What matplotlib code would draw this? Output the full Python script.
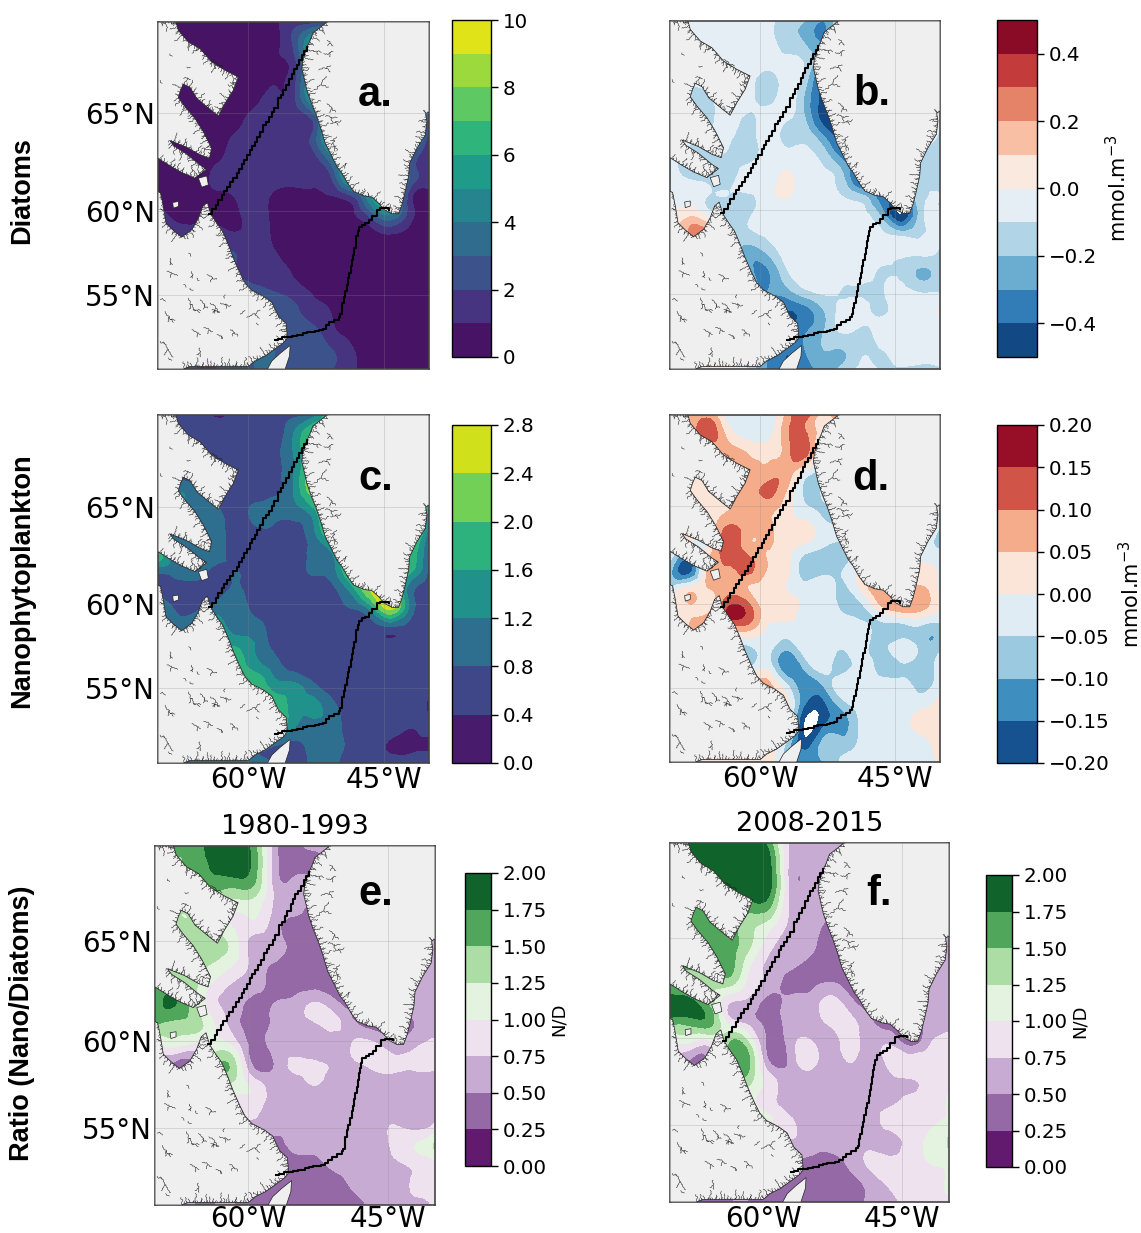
import numpy as np
import matplotlib
matplotlib.use("Agg")
import matplotlib.pyplot as plt
from matplotlib.collections import LineCollection
from matplotlib.path import Path
from matplotlib.patches import Polygon
from matplotlib.tri import Triangulation, UniformTriRefiner

W, H = 1141, 1233

# fields, 15 columns x 19 rows, north at the top
diatoms_mean = [
 [.5,.5,.5,.5,.5,.5,.8,1.6,1.6,3,3,3,3,3,3],
 [.5,.5,.5,.5,.5,.5,.8,2.2,5,5,5,5,5,5,5],
 [.5,.5,.5,.5,.5,.5,.9,1.6,5,5,5,5,5,5,5],
 [.5,.5,.5,.5,.5,.5,.9,1.6,5,5,5,5,5,5,5],
 [.5,.5,.5,.5,.5,.7,1.3,1.7,5,5,5,5,5,5,5],
 [.5,.5,.5,.5,.7,1.3,1.5,1.7,2.2,6,6,6,6,6,3],
 [.5,.5,.5,.6,1.1,1.3,1.4,1.5,2.3,6,6,6,6,6,1.2],
 [.5,.5,.5,.8,1.3,1.3,1.3,1.3,1.6,4,6,6,6,3,1.3],
 [.5,.5,.5,1.2,1.3,1.3,1.3,1.3,1.2,2.2,6,6,6,3,1.2],
 [.5,.5,.5,.8,1.05,1.3,.9,.7,.8,1.0,2.0,5,6,1.5,.8],
 [1.5,.7,.6,.6,.8,1.3,.8,.5,.5,.5,.8,2.5,4,1.5,.7],
 [2,1.5,1.5,1.5,1.1,1.3,.85,.5,.5,.5,.5,.5,1.0,.5,.5],
 [2,2,2,2,2,1.3,1.05,.6,.5,.5,.5,.5,.5,.5,.5],
 [2,2,2,2,2,1.3,1.3,.9,.5,.5,.5,.5,.5,.5,.5],
 [2,2,2,2,2.5,2.5,2,1.5,.9,.6,.5,.5,.5,.5,.5],
 [2,2,2,2,2.5,3,3,2.3,1.4,.95,.5,.5,.5,.5,.5],
 [2,2,2,2,2.5,3,3,2.3,2.2,1.2,.6,.5,.5,.5,.5],
 [2,2,2,2,2.5,3,3,2.5,2.3,2.0,1.1,.5,.5,.5,.5],
 [2,2,2,2,2.5,3,3,2.3,2.2,2.0,1.2,.5,.5,.5,.5],
]
diatoms_diff = [
 [-.05,-.05,-.05,-.05,-.05,-.05,-.15,-.2,-.3,-.05,-.05,-.05,-.05,-.05,-.05],
 [-.05,-.05,-.05,-.05,-.05,-.05,-.15,-.22,-.3,-.05,-.05,-.05,-.05,-.05,-.05],
 [-.05,-.05,-.05,-.05,-.05,-.05,-.08,-.12,-.3,-.3,-.05,-.05,-.05,-.05,-.05],
 [-.05,-.05,-.05,-.05,-.05,-.15,-.05,-.15,-.45,-.3,-.05,-.05,-.05,-.05,-.05],
 [-.05,-.2,-.12,-.05,-.05,-.15,-.05,-.22,-.45,-.3,-.05,-.05,-.05,-.05,-.05],
 [-.05,-.05,-.12,-.05,-.12,-.05,-.08,-.2,-.45,-.3,-.05,-.05,-.05,-.05,-.05],
 [-.05,-.05,-.12,-.08,-.15,-.05,-.13,-.13,-.3,-.45,-.3,-.05,-.05,-.05,-.12],
 [-.05,-.15,-.12,-.12,-.15,-.05,-.05,-.07,-.15,-.35,-.3,-.05,-.05,-.15,-.12],
 [-.05,-.12,-.12,-.15,-.05,-.05,.01,-.05,-.08,-.2,-.45,-.3,-.15,-.15,-.12],
 [-.04,-.04,-.1,-.1,-.11,-.05,.01,-.05,-.05,-.11,-.2,-.35,-.3,-.12,-.1],
 [.02,.07,-.05,-.13,-.12,-.05,-.05,-.05,-.05,-.05,-.08,-.25,-.5,-.15,-.1],
 [.02,.2,.2,-.05,-.13,-.08,-.05,-.05,-.05,-.05,-.05,-.08,-.15,-.12,-.05],
 [-.05,-.05,-.05,-.1,-.25,-.2,-.06,-.05,-.05,-.05,-.05,-.05,-.07,-.08,-.13],
 [-.05,-.05,-.05,-.1,-.25,-.32,-.13,-.05,-.05,-.05,-.05,-.11,-.12,-.22,-.14],
 [-.05,-.05,-.05,-.1,-.25,-.3,-.25,-.13,-.08,-.11,-.12,-.11,-.07,-.11,-.11],
 [-.05,-.05,-.05,-.1,-.25,-.3,-.4,-.35,-.2,-.06,-.06,-.12,-.05,-.05,.02],
 [-.05,-.05,-.05,-.1,-.25,-.3,-.4,-.32,-.2,-.08,-.12,-.05,-.05,-.05,-.05],
 [-.05,-.05,-.05,-.1,-.25,-.3,-.4,-.3,-.2,-.2,-.12,-.1,-.05,-.05,-.05],
 [-.05,-.05,.07,.07,-.1,-.3,-.4,-.35,-.25,-.17,-.08,-.11,-.11,-.13,-.11],
]
nano_mean = [
 [.6,.6,.6,.35,.5,.6,.6,.7,1.0,2,2,2,2,2,2],
 [.6,.6,.6,.6,.6,.6,.6,1.2,2.0,2.0,2.0,2.0,2.0,2.0,2.0],
 [.6,.6,.6,.6,.6,.6,.7,1.2,2.0,2.0,2.0,2.0,2.0,2.0,2.0],
 [.6,.6,.6,.6,.6,.6,.7,1.2,2.2,2.2,2.2,2.2,2.2,2.2,2.2],
 [.6,1.2,.9,.6,.6,.6,.75,1.2,2.2,2.2,2.2,2.2,2.2,2.2,2.2],
 [.6,1.0,1.0,.9,.6,.9,.9,1.0,1.4,2.5,2.5,2.5,2.5,2.5,1.5],
 [.6,1.0,1.0,1.0,.6,.7,.7,.6,1.1,2.2,2.5,2.5,2.5,2.5,1.0],
 [2,1.0,1.0,1.0,.6,.6,.6,.6,.85,1.3,2.5,2.5,2.5,2,.8],
 [1.0,1.0,1.0,.7,.8,.6,.6,.6,.85,1.0,2.2,2.5,2.5,1.8,.7],
 [.6,.6,.6,.6,.85,.6,.6,.6,.6,.7,1.4,2.5,2.5,1.0,.7],
 [1.5,.7,.7,1.0,1.0,.7,.6,.6,.6,.6,.8,1.4,2.5,1.1,.7],
 [1.5,1.1,1.3,1.5,1.0,.95,.6,.6,.6,.6,.6,.6,.7,.6,.6],
 [1.5,1.5,1.5,1.6,1.6,1.2,.7,.6,.6,.6,.6,.6,.6,.6,.6],
 [1.5,1.5,1.5,1.6,1.8,1.4,1.0,.6,.6,.6,.6,.6,.6,.6,.6],
 [1.5,1.5,1.5,1.6,1.8,2,1.4,1.3,.9,.6,.6,.6,.6,.6,.6],
 [1.5,1.5,1.5,1.6,1.8,2,2,1.4,1.3,.9,.6,.6,.6,.6,.3],
 [1.5,1.5,1.5,1.6,1.8,2,2,1.3,1.1,1.0,.6,.6,.6,.45,.5],
 [1.0,1.0,1.0,1.0,1.0,1.0,.9,.7,.95,1.0,.7,.6,.35,.3,.35],
 [1.0,1.0,1.0,1.0,1.0,1.0,.8,.6,.9,.9,.6,.6,.6,.6,.6],
]
nano_diff = [
 [0,.06,.08,-.02,-.02,-.02,.06,.13,.03,.12,0,0,0,0,0],
 [0,.05,.13,.03,-.02,-.02,.08,.11,.01,0,0,0,0,0,0],
 [0,.02,.03,.06,.05,.03,.07,.12,-.04,0,0,0,0,0,0],
 [0,.02,.03,.03,.06,.07,.08,-.02,-.05,0,0,0,0,0,0],
 [0,.02,.03,.05,.08,.11,.05,-.06,-.04,0,0,0,0,0,0],
 [0,.02,.02,.05,.07,.06,.02,-.03,-.06,-.05,0,0,0,0,0],
 [0,.02,.0,.12,.07,.06,.02,.02,-.03,-.04,0,0,0,0,-.06],
 [0,-.05,.02,.13,.08,.05,.02,-.03,-.06,-.06,-.03,0,0,-.03,-.05],
 [-.08,-.18,.06,.09,.12,.05,.02,-.08,-.07,-.05,.01,.02,0,.02,-.02],
 [-.06,.02,.05,.07,.05,.02,.0,-.03,-.02,-.06,.02,.08,.06,.06,-.02],
 [.02,.04,.03,.15,.13,.02,.03,-.02,-.03,-.06,-.06,.04,.08,.07,.0],
 [.02,.05,.1,.1,.08,.0,-.02,-.02,-.03,-.03,-.03,-.07,-.07,-.06,-.07],
 [.02,.02,.02,-.04,-.06,-.03,-.08,-.02,-.03,-.04,-.03,-.07,-.02,-.07,-.07],
 [.02,.02,.02,-.04,-.07,-.02,-.14,-.08,-.03,-.07,-.03,-.07,-.06,-.08,-.02],
 [.02,.02,.02,.02,.05,.07,-.04,-.13,-.09,-.02,-.03,-.03,-.03,-.07,-.02],
 [.02,.02,.02,.02,.02,.05,.03,-.15,-.16,-.07,-.02,-.02,-.02,-.02,.02],
 [.02,.02,.02,.02,.02,.03,.03,-.21,-.16,-.12,-.03,-.02,-.02,.02,.03],
 [.02,.02,.02,.02,.02,.02,-.05,-.18,-.08,-.08,-.03,-.02,-.02,-.02,.03],
 [.02,.02,.04,.04,.04,.02,-.05,-.12,-.1,-.04,-.02,-.02,-.02,-.02,.0],
]
ratio_early = [
 [1.6,1.6,1.6,1.9,1.9,1.55,.6,.4,.6,.6,.6,.6,.6,.6,.6],
 [1.6,1.5,1.6,1.8,1.9,1.6,.6,.4,.4,.6,.6,.6,.6,.6,.6],
 [1.5,1.5,1.5,1.6,1.55,1.45,.65,.6,.6,.6,.6,.6,.6,.6,.6],
 [1.3,1.3,1.3,1.3,1.1,1.1,.7,.6,.4,.4,.4,.4,.6,.6,.6],
 [1.3,1.3,1.3,1.3,.95,.9,.6,.4,.4,.4,.4,.4,.6,.6,.6],
 [1.3,1.3,1.3,1.35,1.1,.6,.6,.4,.4,.4,.4,.4,.6,.6,.6],
 [1.3,1.3,1.3,1.2,.95,.65,.45,.4,.4,.4,.4,.4,.6,.6,.6],
 [1.6,1.6,1.3,.9,.7,.6,.4,.42,.42,.4,.4,.4,.6,.6,.6],
 [1.6,1.75,1.3,.8,.6,.4,.52,.6,.8,.6,.4,.4,.4,.6,.6],
 [1.5,1.4,1.35,1.0,.6,.4,.55,.6,.7,.8,.55,.4,.4,.5,.6],
 [.7,1.05,.9,1.1,.9,.4,.6,.6,.6,.6,.8,.8,.6,.7,.85],
 [.6,.4,.5,1.4,1.3,.42,.52,.8,.8,.72,.7,.8,.8,.8,.8],
 [.5,.5,.5,1.1,1.15,.9,.6,.6,.75,.6,.6,.65,.6,.6,.7],
 [.5,.5,.5,.9,.9,.85,.6,.6,.6,.6,.6,.6,.6,.6,.72],
 [.5,.5,.5,.7,.7,.7,.6,.6,.6,.6,.6,.6,.75,.65,.8],
 [.5,.5,.5,.5,.5,.5,.4,.6,.6,.6,.6,.6,.8,1.0,1.3],
 [.5,.5,.5,.5,.5,.4,.4,.35,.4,.55,.6,.6,.7,.8,.9],
 [.5,.5,.5,.5,.5,.4,.4,.4,.4,.4,.55,.6,.6,.8,.85],
 [.5,.5,.5,.5,.5,.4,.4,.4,.4,.4,.4,.6,.6,.6,.8],
]
ratio_late = [
 [1.9,1.9,1.9,1.9,1.9,1.6,.7,.65,.6,.6,.6,.6,.6,.6,.6],
 [1.9,1.9,1.9,1.9,1.9,1.8,.7,.65,.6,.6,.6,.6,.6,.6,.6],
 [1.9,1.9,1.9,1.9,1.9,1.85,.7,.6,.6,.6,.6,.6,.6,.6,.6],
 [1.7,1.7,1.7,1.7,1.7,1.6,.7,.6,.6,.4,.4,.6,.6,.6,.6],
 [1.6,1.6,1.6,1.6,1.35,1.15,.7,.6,.45,.4,.4,.6,.6,.6,.6],
 [1.6,1.6,1.65,1.6,1.3,.85,.65,.55,.4,.4,.4,.6,.6,.6,.6],
 [1.6,1.6,1.6,1.6,1.05,.7,.6,.45,.4,.4,.4,.4,.6,.6,.6],
 [1.5,1.4,1.35,1.35,.9,.65,.4,.4,.5,.4,.4,.4,.4,.6,.6],
 [1.9,1.85,1.4,.75,.65,.4,.6,.6,.85,.6,.4,.4,.4,.6,.6],
 [1.6,1.6,1.6,.9,.65,.4,.6,.6,.8,.85,.55,.4,.4,.6,.7],
 [.9,1.0,.9,1.5,1.2,.4,.6,.8,.6,.85,.65,.7,.4,.7,.8],
 [.6,.45,.55,1.45,1.5,.5,.55,.85,.6,.75,.6,.8,.9,.85,.85],
 [.5,.5,.5,1.4,1.3,.9,.55,.6,.6,.6,.6,.65,.7,.85,.9],
 [.5,.5,.5,1.2,1.1,.85,.6,.6,.6,.6,.6,.65,.85,.9,1.05],
 [.5,.5,.5,1.0,1.0,1.0,.8,.6,.6,.6,.6,.85,.85,.95,1.05],
 [.5,.5,.5,.5,.5,.5,.7,.6,.6,.6,.65,.6,.85,1.05,1.3],
 [.5,.5,.5,.5,.5,.45,.45,.45,.4,.55,.8,.85,.9,1.0,1.05],
 [.5,.5,.5,.5,.5,.45,.4,.4,.4,.4,.6,.8,.9,.9,1.05],
 [.5,.5,.5,.5,.5,.45,.4,.4,.4,.4,.55,.7,.8,.9,.95],
]

# coastlines and ship track, in map units of panel a (x 24-836, y 35-1078)
greenland = [(530,35),(505,55),(488,68),(478,95),(468,115),(458,150),(455,175),(462,205),(470,240),(482,275),(498,315),(510,350),(525,400),(545,440),(560,470),(575,490),(592,520),(610,545),(640,558),(665,562),(685,580),(702,600),(725,612),(745,612),(755,585),(765,545),(775,500),(778,460),(800,415),(825,375),(830,335),(826,312),(836,305),(836,35)]
labrador = [(24,1079),(24,545),(32,550),(40,590),(48,640),(70,662),(95,682),(125,660),(145,625),(158,590),(172,578),(182,612),(200,640),(218,665),(235,705),(250,745),(270,790),(285,820),(305,842),(340,860),(365,878),(385,920),(408,942),(412,985),(400,1000),(380,1015),(345,1040),(315,1055),(295,1072),(120,1072),(100,1079)]
baffin = [(24,35),(78,35),(85,60),(115,95),(150,115),(185,155),(225,180),(265,200),(250,240),(225,280),(205,318),(170,290),(140,265),(120,232),(100,222),(92,240),(85,262),(105,290),(135,325),(160,365),(185,415),(178,445),(150,435),(110,412),(60,392),(72,408),(110,432),(150,465),(170,478),(135,505),(95,488),(60,468),(24,445)]
newfoundland = [(352,1079),(365,1055),(390,1032),(420,1008),(418,1040),(405,1079)]
resolution_isl = [(145,505),(170,498),(175,525),(155,532)]
akpatok_isl = [(68,578),(85,575),(85,590),(70,595)]
land_masses = [greenland, labrador, baffin, newfoundland, resolution_isl, akpatok_isl]

# scribbled inland water: start x, start y, direction (rad), length
inland_water = [
 (60,745,1.2,26),(50,785,.5,40),(115,730,1.3,16),(125,785,1.4,26),(140,805,.8,14),(170,795,.6,40),
 (115,865,.9,55),(150,870,.7,42),(180,880,.8,48),(130,900,.2,28),(45,905,.9,50),(30,870,.3,22),
 (125,960,.6,35),(160,955,.6,36),(240,960,.7,38),(290,925,-.4,55),(320,940,1.2,10),(40,1000,1.1,60),
 (150,1015,1.5,34),(30,995,.2,22),(210,880,.3,40),(100,825,.8,14),(225,855,1.5,14),(270,915,-.4,22),
 (200,975,.6,26),(60,930,.2,18),(185,900,.4,30),(120,835,.7,16),(55,1045,.3,16),
 (110,170,.3,14),(30,210,.7,14),(185,150,.7,46),(100,205,.3,26),(60,130,.9,14),
 (490,240,-.9,70),(530,280,.6,45),(540,340,-.2,40),(560,380,1.9,38),(520,130,-.3,36),(530,90,.9,30),
 (525,320,.2,45),(505,180,-.5,48),(550,400,1.0,30),(490,120,.3,30),(585,460,1.9,18),
]
turn_table = [.5,-.7,.3,.9,-.4,-.9,.6,-.2,.8,-.6,.2,-.8,.4,-.3]
fjord_lengths = [4,9,2,14,6,20,3,8,28,5,2,11,16,3,7,35,4]

track_north = [(178,612),(186,598),(197,585),(205,570),(215,555),(222,543),(232,530),(240,517),(250,503),(260,490),(267,476),(275,463),(283,450),(290,436),(300,420),(306,408),(314,395),(322,380),(330,366),(340,345),(348,335),(356,322),(365,307),(373,293),(385,265),(393,255),(400,240),(408,225),(418,205),(425,190),(430,175),(440,165),(447,150),(455,135),(462,122),(470,110)]
track_south = [(375,992),(385,990),(397,984),(410,982),(425,980),(440,977),(458,970),(470,969),(482,967),(495,966),(505,963),(517,958),(527,948),(537,938),(552,932),(565,922),(570,915),(575,895),(576,880),(582,862),(585,845),(590,825),(594,805),(597,790),(602,770),(605,752),(609,735),(612,715),(616,695),(618,680),(622,665),(625,652),(636,645),(645,640),(655,630),(665,618),(680,600),(690,596),(705,595),(715,600)]

# colour levels and ticks per panel
levels_diatoms = np.arange(0, 10.5, 1)
levels_diatoms_diff = np.arange(-0.5, 0.55, 0.1)
levels_nano = np.arange(0, 3.0, 0.4)
levels_nano_diff = np.arange(-0.2, 0.25, 0.05)
levels_ratio = np.arange(0, 2.25, 0.25)

ticks_diatoms = [0, 2, 4, 6, 8, 10]
ticks_diatoms_diff = [-0.4, -0.2, 0.0, 0.2, 0.4]

lon_ticks = [295, 700]
lon_labels = ["60°W", "45°W"]
lat_ticks = [310, 603, 855]
lat_labels = ["65°N", "60°N", "55°N"]

grid_x = np.linspace(24, 836, 15)
grid_y = np.linspace(35, 1079, 19)
mesh_x, mesh_y = np.meshgrid(grid_x, grid_y)
grid_tri = Triangulation(mesh_x.ravel(), mesh_y.ravel())
refiner = UniformTriRefiner(grid_tri)


def px_axes(x0, y0, x1, y1):
    return [x0 / W, 1 - y1 / H, (x1 - x0) / W, (y1 - y0) / H]


def wiggle(x, y, angle, length, idx):
    xs, ys = [x], [y]
    left = length
    while left > 0:
        step = min(left, 3 + (idx % 3) * 2)
        a = angle + turn_table[idx % len(turn_table)]
        x, y = x + step * np.cos(a), y + step * np.sin(a)
        xs.append(x)
        ys.append(y)
        left -= step
        idx += 1
    return np.column_stack([xs, ys])


def build_scribbles():
    lines = []
    count = 0
    for poly in land_masses[:3]:
        path = Path(poly + [poly[0]])
        for (xa, ya), (xb, yb) in zip(poly, poly[1:]):
            seg = np.hypot(xb - xa, yb - ya)
            n = int(seg / 4)
            if n == 0 or min(xa, xb) >= 836 or max(xa, xb) <= 24:
                continue
            nx, ny = -(yb - ya) / seg, (xb - xa) / seg
            if not path.contains_point(((xa + xb) / 2 + 2 * nx, (ya + yb) / 2 + 2 * ny)):
                nx, ny = -nx, -ny
            ang = np.arctan2(ny, nx)
            for k in range(n):
                t = k / n
                px, py = xa + t * (xb - xa), ya + t * (yb - ya)
                length = fjord_lengths[count % len(fjord_lengths)]
                count += 1
                line = wiggle(px, py, ang, length, count)
                if path.contains_point(line[-1]):
                    lines.append(line)
    for x, y, ang, length in inland_water:
        line = wiggle(x, y, ang, length, int(x + y))
        lines.append(line)
        if length > 25:
            mid = line[len(line) // 2]
            lines.append(wiggle(mid[0], mid[1], ang + 1.2, length * 0.4, int(x)))
    return lines


scribbles = build_scribbles()


def draw_map(box, field, levels, cmap, letter, letter_xy, xlabels=False, ylabels=False, xpad=2):
    ax = fig.add_axes(px_axes(*box))
    tri_fine, z_fine = refiner.refine_field(np.array(field, dtype=float).ravel(), subdiv=3)
    z_fine = np.minimum(z_fine, levels[-1] - 1e-6)
    cf = ax.tricontourf(tri_fine, z_fine, levels=levels, cmap=cmap, zorder=1)
    for poly in land_masses:
        ax.add_patch(Polygon(poly, closed=True, fc="#efefef", ec="#222222", lw=0.5, zorder=3))
    ax.add_collection(LineCollection(scribbles, colors="#1c1c1c", linewidths=0.38, zorder=4))
    ax.plot(*zip(*track_north), color="black", lw=1.5, drawstyle="steps-post", zorder=6)
    ax.plot(*zip(*track_south), color="black", lw=1.5, drawstyle="steps-post", zorder=6)
    for x in lon_ticks:
        ax.axvline(x, color="#888888", lw=0.6, alpha=0.3, zorder=5)
    for y in lat_ticks:
        ax.axhline(y, color="#888888", lw=0.6, alpha=0.3, zorder=5)
    ax.set_xlim(24, 836)
    ax.set_ylim(1079, 35)
    ax.set_xticks(lon_ticks if xlabels else [])
    ax.set_xticklabels(lon_labels if xlabels else [])
    ax.set_yticks(lat_ticks if ylabels else [])
    ax.set_yticklabels(lat_labels if ylabels else [])
    ax.tick_params(length=0, labelsize=20, pad=2)
    ax.tick_params(axis="x", pad=xpad)
    for s in ax.spines.values():
        s.set_color("#444444")
        s.set_linewidth(1.2)
    fig.text(letter_xy[0] / W, 1 - letter_xy[1] / H, letter, fontsize=30, fontweight="bold",
             family="Liberation Sans", ha="left", va="baseline", zorder=10)
    return cf


def draw_cbar(box, cf, ticks=None, label=None, size=14.3, labelsize=15, labelpad=6):
    cax = fig.add_axes(px_axes(*box))
    cb = fig.colorbar(cf, cax=cax, ticks=ticks if ticks is not None else cf.levels)
    cb.ax.tick_params(labelsize=size, length=5, width=1)
    cb.outline.set_linewidth(1)
    if label:
        cb.set_label(label, fontsize=labelsize, labelpad=labelpad)
    return cb


fig = plt.figure(figsize=(W / 100, H / 100), dpi=100, facecolor="white")

cf_a = draw_map((158, 22, 429, 369), diatoms_mean, levels_diatoms, "viridis", "a.", (358, 106), ylabels=True)
draw_cbar((452, 20, 491, 357), cf_a, ticks_diatoms)

cf_b = draw_map((670, 21, 940, 369), diatoms_diff, levels_diatoms_diff, "RdBu_r", "b.", (853, 105))
draw_cbar((997, 20, 1037, 357), cf_b, ticks_diatoms_diff, "mmol.m$^{-3}$")

cf_c = draw_map((158, 415, 429, 763), nano_mean, levels_nano, "viridis", "c.", (358, 490), xlabels=True, ylabels=True)
draw_cbar((452, 425, 491, 763), cf_c)

cf_d = draw_map((670, 415, 940, 762), nano_diff, levels_nano_diff, "RdBu_r", "d.", (852, 490), xlabels=True)
draw_cbar((997, 425, 1037, 763), cf_d, None, "mmol.m$^{-3}$")

cf_e = draw_map((155, 846, 435, 1205), ratio_early, levels_ratio, "PRGn", "e.", (358, 905), xlabels=True, ylabels=True, xpad=0)
draw_cbar((465, 873, 491, 1166), cf_e, None, "N/D", labelsize=13, labelpad=2)

cf_f = draw_map((670, 843, 949, 1202), ratio_late, levels_ratio, "PRGn", "f.", (866, 905), xlabels=True)
draw_cbar((986, 875, 1012, 1167), cf_f, None, "N/D", labelsize=13, labelpad=2)

fig.text(295 / W, 1 - 834 / H, "1980-1993", fontsize=19.5, ha="center", va="baseline")
fig.text(810 / W, 1 - 831 / H, "2008-2015", fontsize=19.5, ha="center", va="baseline")

for label, yc in [("Diatoms", 191), ("Nanophytoplankton", 581), ("Ratio (Nano/Diatoms)", 1023)]:
    fig.text(22 / W, 1 - yc / H, label, rotation=90, fontsize=19.5, fontweight="bold",
             family="Liberation Sans", ha="center", va="center")

fig.savefig("out.png", dpi=100)
